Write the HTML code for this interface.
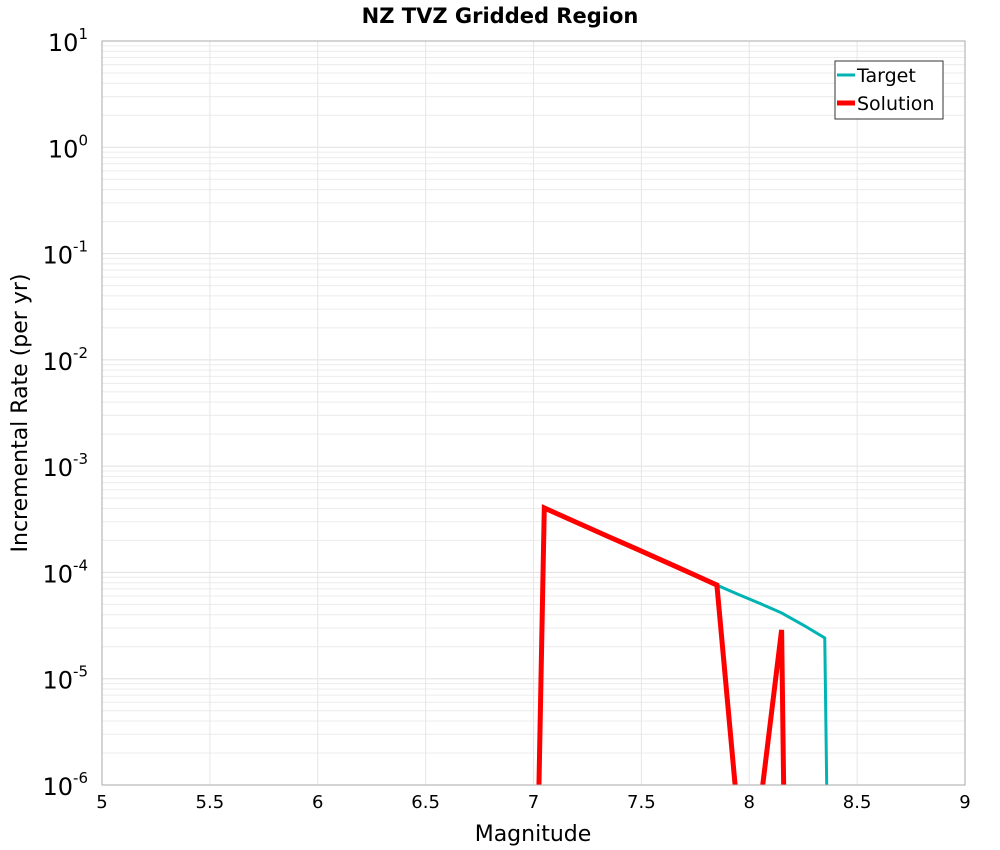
<!DOCTYPE html>
<html><head><meta charset="utf-8"><style>
html,body{margin:0;padding:0;background:#fff;overflow:hidden;width:1000px;height:850px;}
svg{display:block;}
svg text{font-family:"DejaVu Sans","Liberation Sans",sans-serif;}
</style></head><body>
<svg id="chart" width="1000" height="850" xmlns="http://www.w3.org/2000/svg">
<text x="500" y="23" text-anchor="middle" font-size="21" font-weight="bold">NZ TVZ Gridded Region</text>
<g id="grid"></g>
<g id="series"></g>
<rect x="102" y="41" width="863" height="744" fill="none" stroke="#aaa" stroke-width="1"/>
<g id="ticks"></g>
<text x="533" y="841" text-anchor="middle" font-size="22">Magnitude</text>
<text transform="translate(27,413) rotate(-90)" text-anchor="middle" font-size="22">Incremental Rate (per yr)</text>
<g>
<rect x="835" y="61" width="108" height="58" fill="#fff" stroke="#333" stroke-width="1"/>
<line x1="837" y1="75" x2="855" y2="75" stroke="#00b4b4" stroke-width="3"/>
<text x="857" y="82" font-size="19">Target</text>
<line x1="837" y1="103" x2="855" y2="103" stroke="#ff0000" stroke-width="5"/>
<text x="857" y="110" font-size="19">Solution</text>
</g>
</svg>
<script>
const mags = [6.95, 7.05, 7.15, 7.25, 7.35, 7.45, 7.55, 7.65, 7.75, 7.85, 7.95, 8.05, 8.15, 8.25, 8.35, 8.45];
const targetRates = [1.2e-14, 4.04e-4, 3.28e-4, 2.66e-4, 2.16e-4, 1.76e-4, 1.43e-4, 1.16e-4, 9.4e-5, 7.6e-5, 6.2e-5, 5.1e-5, 4.16e-5, 3.2e-5, 2.42e-5, 1e-20];
const solutionRates = [1.2e-14, 4.04e-4, 3.28e-4, 2.66e-4, 2.16e-4, 1.76e-4, 1.43e-4, 1.16e-4, 9.4e-5, 7.6e-5, 4.5e-7, 6.2e-7, 2.88e-5, 1e-20, 1e-20, 1e-20];
const xTicks = [5, 5.5, 6, 6.5, 7, 7.5, 8, 8.5, 9];
const xTickLabels = ["5","5.5","6","6.5","7","7.5","8","8.5","9"];
const yExps = [-6, -5, -4, -3, -2, -1, 0, 1];

const X0=102,X1=965,Y0=41,Y1=785;
const xMin=5,xMax=9,lMin=-6,lMax=1;
const sx=v=>X0+(v-xMin)/(xMax-xMin)*(X1-X0);
const sy=v=>Y1-(Math.log10(v)-lMin)/(lMax-lMin)*(Y1-Y0);
const NS="http://www.w3.org/2000/svg";
function mk(tag,attrs,parent){const e=document.createElementNS(NS,tag);for(const k in attrs)e.setAttribute(k,attrs[k]);parent.appendChild(e);return e;}
const grid=document.getElementById('grid'),ticks=document.getElementById('ticks'),series=document.getElementById('series');
for(let e=lMin;e<lMax;e++){for(let m=1;m<10;m++){const y=sy(m*Math.pow(10,e));
const l=mk('line',{x1:X0,x2:X1,y1:y,y2:y,stroke:m==1?'#e0e0e0':'#ececec','stroke-width':1},grid);

}}
xTicks.forEach((t,i)=>{const x=sx(t);
const l=mk('line',{x1:x,x2:x,y1:Y0,y2:Y1,stroke:'#e6e6e6','stroke-width':1},grid);


const tx=mk('text',{x:x,y:808,'text-anchor':'middle','font-size':18},ticks);tx.textContent=xTickLabels[i];

});
yExps.forEach(e=>{const y=sy(Math.pow(10,e));
const tx=mk('text',{x:88,y:y+10,'text-anchor':'end','font-size':24},ticks);


const a=document.createElementNS(NS,'tspan');a.textContent='10';tx.appendChild(a);
const b=document.createElementNS(NS,'tspan');b.setAttribute('dy','-12');b.setAttribute('font-size','15');b.textContent=String(e);tx.appendChild(b);});
mk('clipPath',{id:'clip'},document.getElementById('chart'));
mk('rect',{x:X0,y:Y0,width:X1-X0,height:Y1-Y0},document.getElementById('clip'));
function path(vals,color,w,name){const d=mags.map((m,i)=>(i?'L':'M')+sx(m).toFixed(2)+','+sy(vals[i]).toFixed(2)).join(' ');
const p=mk('path',{d:d,fill:'none',stroke:color,'stroke-width':w,'clip-path':'url(#clip)','stroke-linejoin':'miter'},series);

}
path(targetRates,'#00b4b4',3,'target-line');
path(solutionRates,'#ff0000',5,'solution-line');
</script>
</body></html>
